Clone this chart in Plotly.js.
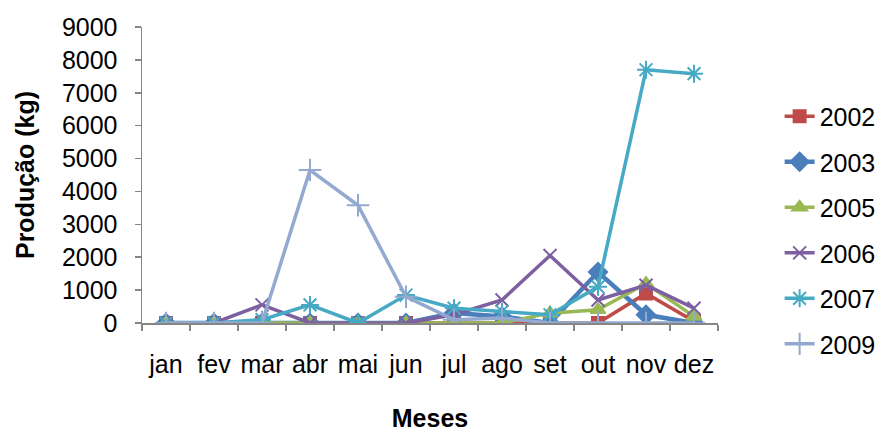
<!DOCTYPE html>
<html>
<head>
<meta charset="utf-8">
<script src="https://cdn.plot.ly/plotly-3.0.1.min.js"></script>
<style>html,body{margin:0;padding:0;background:#fff;}#chart{width:882px;height:432px;}</style>
</head>
<body>
<div id="chart"></div>
<script>
const months = ['jan','fev','mar','abr','mai','jun','jul','ago','set','out','nov','dez'];
const seriesNames = ['2002','2003','2005','2006','2007','2009'];
const p2002 = [0,0,0,0,0,0,0,0,0,0,900,50];
const p2003 = [0,0,0,0,0,0,300,200,0,1550,250,0];
const p2005 = [0,0,0,0,0,0,0,0,300,400,1200,200];
const p2006 = [0,0,550,0,0,0,250,700,2050,700,1150,450];
const p2007 = [0,0,100,550,0,850,450,350,250,1100,7700,7580];
const p2009 = [0,0,0,4650,3580,800,100,150,0,0,0,0];

const values = [p2002,p2003,p2005,p2006,p2007,p2009];
const colors = ['#BE4B48','#4A7EBB','#98B954','#7D60A0','#46AAC5','#93A9D0'];
const symbols = ['square','diamond','triangle-up','x-thin-open','asterisk-open','cross-thin-open'];
const sizes = [12,14,13,13,15,16];
const widths = [3.5,4.5,3.5,3.5,3.5,3.5];

const traces = seriesNames.map((n,i)=>({
  type:'scatter', mode:'lines+markers', name:n, x:months, y:values[i],
  legendgroup:n,
  line:{color:colors[i], width:widths[i]},
  marker:{symbol:symbols[i], size:sizes[i], color:colors[i], line:{color:colors[i], width:2}}
}));

const fnt = 'Liberation Sans, Arial, sans-serif';
const layout = {
  width:882, height:432,
  margin:{l:142, r:164, t:27, b:109, autoexpand:false},
  paper_bgcolor:'#fff', plot_bgcolor:'#fff',
  font:{family:fnt, size:25, color:'#000'},
  showlegend:true,
  legend:{x:1.107, xanchor:'left', y:0.775, yanchor:'top', traceorder:'grouped', tracegroupgap:10,
          font:{family:fnt, size:25, color:'#000'}, bgcolor:'rgba(0,0,0,0)'},
  xaxis:{type:'category', range:[-0.5,11.5], showline:true, linecolor:'#868686', linewidth:1.5,
         ticks:'outside', tickson:'boundaries', ticklen:6, tickcolor:'#868686', tickwidth:1.5,
         showgrid:false, zeroline:false, ticklabelstandoff:18, tickangle:0,
         tickfont:{family:fnt, size:25},
         title:{text:'<b>Meses</b>', font:{family:fnt, size:25}, standoff:43}},
  yaxis:{range:[0,9000], dtick:1000, showline:true, linecolor:'#868686', linewidth:1.5,
         ticks:'outside', ticklen:6, tickcolor:'#868686', tickwidth:1.5,
         showgrid:false, zeroline:false, ticklabelstandoff:12,
         tickfont:{family:fnt, size:25},
         title:{text:'<b>Produção (kg)</b>', font:{family:fnt, size:25}, standoff:20}}
};
Plotly.newPlot('chart', traces, layout, {displayModeBar:false, staticPlot:true});
</script>
</body>
</html>
